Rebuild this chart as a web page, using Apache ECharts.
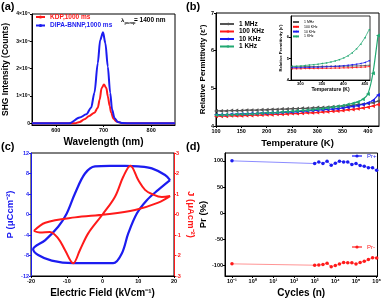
<!DOCTYPE html>
<html><head><meta charset="utf-8">
<script src="https://cdn.jsdelivr.net/npm/echarts@6/dist/echarts.min.js"></script>
<style>html,body{margin:0;padding:0;background:#fff}#c{width:384px;height:300px}</style>
</head><body><div id="c"></div>
<script>
const FONT = 'Liberation Sans, Arial, sans-serif';
// ---------- (a) SHG ----------
const shgBlueWl = [550, 600, 628, 650, 664, 674, 681, 688, 693, 699, 704, 709, 714, 718, 723, 730, 740, 760, 850];
const shgBlueI  = [0, 0, 0, 2100, 3300, 5700, 11200, 22000, 30500, 33300, 29300, 20800, 11200, 5100, 2000, 500, 100, 0, 0];
const shgRedWl  = [550, 600, 640, 650, 660, 670, 681, 688, 692, 696, 701, 706, 709, 713, 716, 721, 727, 740, 850];
const shgRedI   = [0, 0, 0, 500, 1500, 2700, 3900, 5700, 8700, 12900, 14200, 12900, 9900, 6300, 3900, 1700, 700, 0, 0];
const shgYTicks = [0, 10000, 20000, 30000, 40000];
const shgYLabels = ['0', '1×10⁴', '2×10⁴', '3×10⁴', '4×10⁴'];
const shgXTicks = [600, 700, 800];
// ---------- (b) permittivity ----------
const temps = [100,110,120,130,140,150,160,170,180,190,200,210,220,230,240,250,260,270,280,290,300,310,320,330,340,350,360,370,380,390,400,410,420];
const eps1MHz   = [4.40,4.40,4.40,4.41,4.41,4.41,4.42,4.42,4.42,4.43,4.43,4.44,4.44,4.45,4.45,4.46,4.46,4.47,4.47,4.48,4.49,4.49,4.50,4.51,4.52,4.53,4.54,4.55,4.57,4.58,4.60,4.62,4.66];
const eps100KHz = [4.26,4.26,4.26,4.27,4.27,4.27,4.28,4.28,4.29,4.29,4.30,4.30,4.31,4.31,4.32,4.33,4.33,4.34,4.35,4.35,4.36,4.37,4.38,4.39,4.40,4.41,4.43,4.44,4.46,4.48,4.50,4.53,4.57];
const eps10KHz  = [4.30,4.30,4.30,4.31,4.31,4.32,4.32,4.33,4.33,4.34,4.34,4.35,4.35,4.36,4.37,4.37,4.38,4.39,4.40,4.41,4.42,4.43,4.44,4.45,4.46,4.48,4.50,4.52,4.54,4.57,4.61,4.68,4.82];
const eps1KHz   = [4.29,4.29,4.30,4.30,4.31,4.31,4.32,4.32,4.33,4.34,4.35,4.35,4.36,4.37,4.38,4.39,4.40,4.41,4.42,4.43,4.45,4.46,4.48,4.50,4.52,4.54,4.57,4.60,4.64,4.71,4.85,5.40,6.40];
const tempTicks = [100,150,200,250,300,350,400];
const epsTicks = [4,5,6,7];
// inset
const insetTemps = [280,290,300,310,320,330,340,350,360,370,380,390,400,410,420,430,440,450,460];
const in1MHz   = [4.62,4.62,4.62,4.63,4.63,4.63,4.63,4.64,4.64,4.64,4.64,4.65,4.65,4.65,4.66,4.66,4.67,4.68,4.69];
const in100KHz = [4.53,4.53,4.53,4.54,4.54,4.54,4.54,4.55,4.55,4.55,4.56,4.56,4.57,4.57,4.58,4.59,4.60,4.61,4.63];
const in10KHz  = [4.58,4.58,4.58,4.59,4.59,4.60,4.60,4.61,4.62,4.63,4.64,4.65,4.67,4.69,4.71,4.74,4.77,4.82,4.90];
const in1KHz   = [4.64,4.65,4.66,4.68,4.70,4.72,4.74,4.77,4.80,4.84,4.89,4.95,5.03,5.13,5.27,5.45,5.68,5.98,6.36];
const insetXTicks = [300,350,400,450];
const insetYTicks = [4,5,6];
// ---------- (c) P-E / J-E loops ----------
const loopPE = [18.9, 17.5, 13.8, 10, 6.3, 2, -2.1, -4.9, -7.7, -10, -12.4, -16, -19.4, -18, -14.2, -8.2, -3, 3, 5.4, 7.2, 9.6, 12.4, 15.6, 18.9];
const loopP  = [6.7, 7.7, 9.0, 9.4, 9.5, 9.5, 9.4, 8.0, 4.1, 0.2, -2.4, -5.0, -6.8, -7.9, -9.0, -9.5, -9.5, -9.5, -7.6, -3.7, 0.2, 2.8, 4.8, 6.7];
const loopJE = [-19.2, -16, -7.7, 0.7, 9.1, 15.6, 18.9, 16.6, 13.8, 11.9, 10, 7.8, 5.8, 3.5, 0, -4, -6.3, -8.2, -10.5, -12.4, -14.7, -17.5, -19.2];
const loopJ  = [-0.8, -0.4, -0.14, 0, 0.22, 0.58, 0.9, 0.85, 1.0, 1.2, 1.68, 2.38, 1.84, 0.87, 0, -0.92, -1.73, -2.38, -1.73, -1.16, -0.85, -0.88, -0.8];
const eTicks = [-20,-10,0,10,20];
const pTicks = [-12,-8,-4,0,4,8,12];
const jTicks = [-3,-2,-1,0,1,2,3];
// ---------- (d) fatigue ----------
const cycles = [0.1, 1000, 1585, 2512, 3981, 6310, 10000, 15849, 25119, 39811, 63096, 100000, 158489, 251189, 398107, 630957, 1000000];
const prPlus  = [100, 94.9, 98, 95, 99.4, 91.7, 95.5, 99.4, 98, 98, 93, 95, 91, 89.7, 87, 87, 82];
const prMinus = [-96.8, -99.4, -98.8, -98.1, -95.6, -102.5, -100, -96.9, -94.3, -94.9, -94.9, -96.9, -94.3, -91.8, -88.7, -84.9, -85.5];
const cycleTicks = [0.1, 1, 10, 100, 1000, 10000, 100000, 1000000];
const cycleLabels = ['10⁻¹','10⁰','10¹','10²','10³','10⁴','10⁵','10⁶'];
const prTicks = [-100,-50,0,50,100];

const BLUE = '#1c1cf0', RED = '#ff1a1a', GREEN = '#22a872', GRAY = '#555555';
const zip = (a, b) => a.map((v, i) => [v, b[i]]);

function axis(o) {
  const col = o.color || '#000';
  const fs = o.fs || 5.5;
  return Object.assign({
    type: 'value',
    splitLine: { show: false },
    axisLine: { show: true, onZero: false, lineStyle: { color: col, width: 1 } },
    axisTick: { show: true, inside: false, length: 2, lineStyle: { color: col }, customValues: o.ticks },
    axisLabel: { show: true, fontSize: fs, fontWeight: 'bold', color: col, margin: 2, fontFamily: FONT, customValues: o.ticks, formatter: o.fmt },
    nameLocation: 'middle',
    nameTextStyle: { fontFamily: FONT, fontWeight: 'bold', fontSize: o.nfs || 9, color: col }
  }, o.extra || {});
}

const option = {
  animation: false,
  backgroundColor: '#fff',
  textStyle: { fontFamily: FONT },
  grid: [
    { left: 32, top: 14, width: 143, height: 111, show: true, borderColor: '#000', borderWidth: 1 },
    { left: 216, top: 13, width: 163, height: 113, show: true, borderColor: '#000', borderWidth: 1 },
    { left: 291, top: 16, width: 79, height: 64, show: true, borderColor: '#000', borderWidth: 0.8, backgroundColor: '#fff' },
    { left: 31, top: 153, width: 143, height: 123, show: true, borderColor: '#000', borderWidth: 1 },
    { left: 225, top: 153, width: 155, height: 123, show: true, borderColor: '#000', borderWidth: 1 }
  ],
  xAxis: [
    axis({ ticks: shgXTicks, nfs: 10, extra: { gridIndex: 0, min: 550, max: 850, name: 'Wavelength (nm)', nameGap: 12 } }),
    axis({ ticks: tempTicks, nfs: 9.5, extra: { gridIndex: 1, min: 100, max: 422, name: 'Temperature (K)', nameGap: 12 } }),
    axis({ ticks: insetXTicks, fs: 4, nfs: 5, extra: { gridIndex: 2, min: 278, max: 462, name: 'Temperature (K)', nameGap: 7 } }),
    axis({ ticks: eTicks, nfs: 10, extra: { gridIndex: 3, min: -20, max: 20, name: 'Electric Field (kVcm⁻¹)', nameGap: 12 } }),
    axis({ ticks: cycleTicks, nfs: 10, fmt: v => cycleLabels[cycleTicks.findIndex(t => Math.abs(Math.log10(t) - Math.log10(v)) < 1e-6)] || '',
           extra: { type: 'log', gridIndex: 4, min: 0.046, max: 1100000, name: 'Cycles (n)', nameGap: 12 } })
  ],
  yAxis: [
    axis({ ticks: shgYTicks, fs: 5, nfs: 8.5, fmt: v => shgYLabels[shgYTicks.indexOf(v)] || '', extra: { gridIndex: 0, min: -600, max: 40000, name: 'SHG Intensity (Counts)', nameGap: 22 } }),
    axis({ ticks: epsTicks, nfs: 8, extra: { gridIndex: 1, min: 4, max: 7, name: "Relative Permittivity (ε')", nameGap: 9 } }),
    axis({ ticks: insetYTicks, fs: 4, nfs: 4.2, extra: { gridIndex: 2, min: 4, max: 7, name: "Relative Permittivity (ε')", nameGap: 6 } }),
    axis({ ticks: pTicks, color: BLUE, nfs: 9.5, extra: { gridIndex: 3, min: -12, max: 12, name: 'P (μCcm⁻²)', nameGap: 16 } }),
    axis({ ticks: jTicks, color: RED, nfs: 9.5, extra: { gridIndex: 3, position: 'right', min: -3, max: 3, name: 'J (μAcm⁻²)', nameGap: 12, nameRotate: -90 } }),
    axis({ ticks: prTicks, nfs: 9.5, extra: { gridIndex: 4, min: -120, max: 115, name: 'Pr (%)', nameGap: 17 } })
  ],
  legend: [
    { left: 35, top: 13.5, padding: 0, orient: 'vertical', itemGap: 1.5, itemWidth: 9, itemHeight: 4,
      textStyle: { fontSize: 6.5, fontWeight: 'bold', fontFamily: FONT },
      data: [{ name: 'KDP,1000 ms', textStyle: { color: RED } }, { name: 'DIPA-BNNP,1000 ms', textStyle: { color: BLUE } }] },
    { left: 219, top: 20.5, padding: 0, orient: 'vertical', itemGap: 0.5, itemWidth: 14, itemHeight: 4,
      textStyle: { fontSize: 6.5, fontWeight: 'bold', color: '#000', fontFamily: FONT },
      data: ['1 MHz', '100 KHz', '10 KHz', '1 KHz'] },
    { left: 292, top: 20, padding: 0, orient: 'vertical', itemGap: 0.8, itemWidth: 6, itemHeight: 2.5,
      textStyle: { fontSize: 3.5, color: '#000', fontFamily: FONT },
      data: ['1 MHz', '100 KHz', '10 KHz', '1 KHz'] },
    { left: 351, top: 153, padding: 0, itemWidth: 10, itemHeight: 4,
      textStyle: { fontSize: 6, color: BLUE, fontFamily: FONT }, data: ['Pr+'] },
    { left: 351, top: 244, padding: 0, itemWidth: 10, itemHeight: 4,
      textStyle: { fontSize: 6, color: RED, fontFamily: FONT }, data: ['Pr-'] }
  ],
  series: [
    { name: 'KDP,1000 ms', type: 'line', xAxisIndex: 0, yAxisIndex: 0, data: zip(shgRedWl, shgRedI), smooth: 0.3, smoothMonotone: 'x',
      showSymbol: false, symbol: 'circle', symbolSize: 3, itemStyle: { color: RED }, lineStyle: { color: RED, width: 2 } },
    { name: 'DIPA-BNNP,1000 ms', type: 'line', xAxisIndex: 0, yAxisIndex: 0, data: zip(shgBlueWl, shgBlueI), smooth: 0.3, smoothMonotone: 'x',
      showSymbol: false, symbol: 'circle', symbolSize: 3, itemStyle: { color: BLUE }, lineStyle: { color: BLUE, width: 2 } },

    ...[['1 MHz', eps1MHz, in1MHz, GRAY], ['100 KHz', eps100KHz, in100KHz, RED], ['10 KHz', eps10KHz, in10KHz, BLUE], ['1 KHz', eps1KHz, in1KHz, GREEN]].flatMap(([n, main, ins, c]) => [
      { name: n, type: 'line', xAxisIndex: 1, yAxisIndex: 1, data: zip(temps, main), smooth: 0.2,
        symbol: 'triangle', symbolRotate: 90, symbolSize: 4, itemStyle: { color: c }, lineStyle: { color: c, width: 1.2 } },
      { name: n, type: 'line', xAxisIndex: 2, yAxisIndex: 2, data: zip(insetTemps, ins), smooth: 0.2,
        symbol: 'triangle', symbolRotate: 90, symbolSize: 2, itemStyle: { color: c }, lineStyle: { color: c, width: 0.8 } }
    ]),

    { name: 'P', type: 'line', xAxisIndex: 3, yAxisIndex: 3, data: zip(loopPE, loopP), smooth: 0.35, showSymbol: false,
      lineStyle: { color: BLUE, width: 2.2 } },
    { name: 'J', type: 'line', xAxisIndex: 3, yAxisIndex: 4, data: zip(loopJE, loopJ), smooth: 0.35, showSymbol: false,
      lineStyle: { color: RED, width: 2 } },

    { name: 'Pr+', type: 'line', xAxisIndex: 4, yAxisIndex: 5, data: zip(cycles, prPlus), symbol: 'circle', symbolSize: 3.5,
      itemStyle: { color: BLUE }, lineStyle: { color: '#6f6fff', width: 0.8 } },
    { name: 'Pr-', type: 'line', xAxisIndex: 4, yAxisIndex: 5, data: zip(cycles, prMinus), symbol: 'circle', symbolSize: 3.5,
      itemStyle: { color: RED }, lineStyle: { color: '#ff7a7a', width: 0.8 } }
  ],
  graphic: [
    { type: 'text', left: 1, top: 1, style: { text: '(a)', font: 'bold 11px ' + FONT, fill: '#000' } },
    { type: 'text', left: 186, top: 1, style: { text: '(b)', font: 'bold 11px ' + FONT, fill: '#000' } },
    { type: 'text', left: 1, top: 141, style: { text: '(c)', font: 'bold 11px ' + FONT, fill: '#000' } },
    { type: 'text', left: 186, top: 141, style: { text: '(d)', font: 'bold 11px ' + FONT, fill: '#000' } },
    { type: 'text', left: 121, top: 17, style: { text: 'λ', font: 'bold 6px ' + FONT, fill: '#000' } },
    { type: 'text', left: 124.5, top: 20.5, style: { text: 'pump', font: 'bold 4px ' + FONT, fill: '#000' } },
    { type: 'text', left: 134, top: 17, style: { text: '= 1400 nm', font: 'bold 6.5px ' + FONT, fill: '#000' } }
  ]
};
const chart = echarts.init(document.getElementById('c'), null, { renderer: 'canvas' });
chart.setOption(option);
</script></body></html>
